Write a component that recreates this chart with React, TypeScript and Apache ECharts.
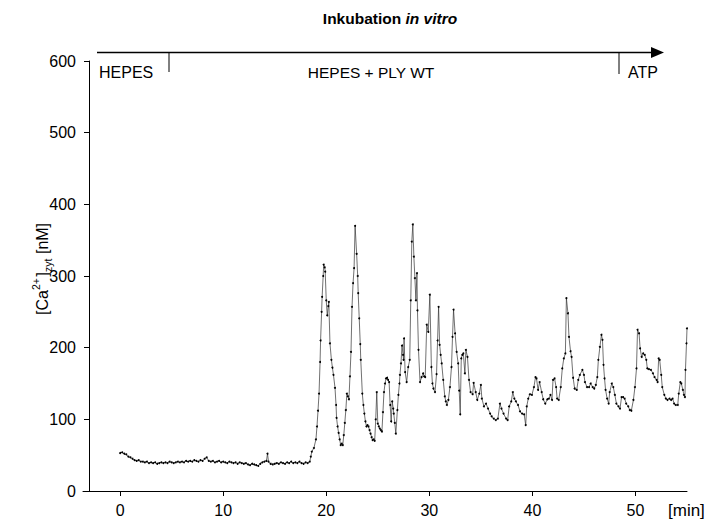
import React, { useEffect, useRef } from "react";
import * as echarts from "echarts";

// Resting phase (HEPES), time in min / cytosolic Ca2+ in nM
const restTime = [
  0, 0.2, 0.4, 0.6, 0.8, 1, 1.2, 1.4, 1.6, 1.8,
  2, 2.2, 2.4, 2.6, 2.8, 3, 3.2, 3.4, 3.6, 3.8,
  4, 4.2, 4.4, 4.6, 4.8, 5, 5.2, 5.4, 5.6, 5.8,
  6, 6.2, 6.4, 6.6, 6.8, 7, 7.2, 7.4, 7.6, 7.8,
  8, 8.2, 8.4, 8.6, 8.8, 9, 9.2, 9.4, 9.6, 9.8,
  10, 10.2, 10.4, 10.6, 10.8, 11, 11.2, 11.4, 11.6, 11.8,
  12, 12.2, 12.4, 12.6, 12.8, 13, 13.2, 13.4, 13.6, 13.8,
  14, 14.2, 14.3,
  14.4, 14.6, 14.8, 15, 15.2, 15.4, 15.6, 15.8, 16, 16.2,
  16.4, 16.6, 16.8, 17, 17.2, 17.4, 17.6, 17.8, 18, 18.2, 18.4,
];
const restCa = [
  53, 54, 52, 51, 48, 47, 45, 43, 42, 43,
  41, 41, 40, 41, 39, 40, 39, 40, 38, 39,
  40, 39, 40, 39, 41, 40, 39, 40, 41, 40,
  41, 40, 42, 41, 42, 41, 43, 42, 41, 43,
  42, 45, 47, 42, 41, 42, 40, 41, 42, 40,
  41, 40, 39, 41, 40, 39, 40, 38, 40, 39,
  38, 39, 37, 36, 38, 37, 36, 35, 38, 40,
  41, 42, 52,
  41, 38, 37, 38, 39, 38, 40, 39, 38, 40,
  39, 41, 39, 40, 39, 41, 39, 38, 40, 39, 41,
];

// Response phase (HEPES + PLY WT, then ATP): [min, nM]
const plyTrace: [number, number][] = [
  [18.5, 48], [18.6, 55], [18.8, 60], [19.0, 72], [19.1, 90], [19.2, 112], [19.3, 136],
  [19.4, 180], [19.45, 210], [19.55, 250], [19.6, 271], [19.7, 300], [19.75, 316],
  [19.85, 312], [19.9, 306], [20.0, 266], [20.1, 245], [20.2, 258], [20.25, 264],
  [20.36, 206], [20.5, 183], [20.6, 172], [20.7, 162], [20.85, 144], [20.95, 120],
  [21.0, 102], [21.1, 90], [21.2, 81], [21.3, 72], [21.4, 64], [21.5, 66], [21.6, 64],
  [21.7, 78], [21.8, 95], [21.9, 113], [22.0, 136], [22.1, 132], [22.2, 128], [22.3, 160],
  [22.4, 194], [22.5, 257], [22.6, 290], [22.7, 311], [22.8, 370], [22.95, 331],
  [23.05, 300], [23.1, 276], [23.2, 241], [23.3, 205], [23.35, 183], [23.5, 136],
  [23.6, 120], [23.7, 108], [23.8, 97], [23.9, 90], [24.0, 92], [24.1, 90], [24.2, 85],
  [24.3, 80], [24.4, 75], [24.5, 71], [24.6, 72], [24.7, 70], [24.8, 100], [24.9, 138],
  [25.0, 94], [25.1, 90], [25.2, 87], [25.3, 85], [25.4, 83], [25.5, 110], [25.6, 138],
  [25.7, 150], [25.8, 157], [25.9, 158], [26.0, 155], [26.1, 152], [26.2, 120], [26.3, 97],
  [26.4, 125], [26.5, 115], [26.55, 108], [26.65, 95], [26.75, 80], [26.9, 113], [27.0, 134],
  [27.1, 150], [27.15, 162], [27.25, 178], [27.35, 203], [27.45, 190], [27.5, 183],
  [27.55, 213], [27.65, 166], [27.8, 152], [27.95, 173], [28.1, 183], [28.2, 266],
  [28.3, 348], [28.4, 372], [28.5, 327], [28.6, 297], [28.7, 266], [28.8, 304],
  [28.85, 252], [28.95, 197], [29.1, 152], [29.25, 159], [29.4, 164], [29.5, 160],
  [29.6, 159], [29.75, 232], [29.9, 222], [30.05, 274], [30.2, 173], [30.3, 150],
  [30.4, 143], [30.55, 138], [30.7, 163], [30.8, 210], [30.9, 257], [31.0, 204],
  [31.1, 190], [31.2, 178], [31.35, 155], [31.5, 132], [31.6, 125], [31.7, 120],
  [31.85, 127], [32.0, 145], [32.15, 173], [32.25, 215], [32.35, 253], [32.5, 220],
  [32.65, 194], [32.8, 178], [32.9, 140], [33.0, 107], [33.1, 185], [33.2, 190],
  [33.3, 192], [33.45, 164], [33.55, 197], [33.7, 187], [33.85, 155], [34.0, 138],
  [34.2, 135], [34.3, 151], [34.5, 138], [34.65, 127], [34.85, 136], [35.0, 148],
  [35.1, 129], [35.3, 118], [35.5, 122], [35.7, 115], [35.9, 108], [36.05, 104],
  [36.25, 101], [36.45, 99], [36.65, 101], [36.85, 122], [37.0, 115], [37.2, 108],
  [37.45, 101], [37.6, 99], [37.75, 118], [37.95, 125], [38.1, 138], [38.25, 129],
  [38.4, 125], [38.6, 120], [38.8, 111], [39.0, 108], [39.2, 107], [39.35, 92],
  [39.45, 118], [39.6, 129], [39.75, 135], [39.95, 134], [40.15, 145], [40.3, 159],
  [40.4, 157], [40.55, 141], [40.7, 152], [40.9, 138], [41.05, 128], [41.25, 122],
  [41.45, 128], [41.6, 129], [41.75, 134], [41.9, 127], [42.0, 155], [42.15, 157],
  [42.3, 145], [42.4, 129], [42.55, 127], [42.75, 145], [42.9, 171], [43.05, 185],
  [43.2, 192], [43.3, 269], [43.45, 248], [43.55, 215], [43.7, 195], [43.8, 187],
  [43.95, 158], [44.1, 143], [44.3, 141], [44.45, 155], [44.6, 162], [44.85, 169],
  [45.0, 162], [45.1, 152], [45.3, 145], [45.5, 145], [45.65, 150], [45.85, 145],
  [46.0, 143], [46.15, 148], [46.3, 159], [46.4, 183], [46.55, 201], [46.7, 218],
  [46.8, 211], [46.9, 176], [47.0, 157], [47.1, 141], [47.25, 129], [47.4, 122],
  [47.5, 138], [47.7, 150], [47.85, 145], [48.0, 134], [48.15, 122], [48.35, 118],
  [48.5, 115], [48.65, 131], [48.8, 131], [48.95, 129], [49.1, 122], [49.3, 118],
  [49.45, 113], [49.6, 112], [49.8, 127], [49.95, 145], [50.1, 171], [50.2, 225],
  [50.35, 220], [50.45, 199], [50.6, 187], [50.75, 192], [50.9, 190], [51.05, 183],
  [51.15, 171], [51.3, 170], [51.5, 169], [51.7, 164], [51.85, 159], [52.05, 155],
  [52.15, 152], [52.25, 185], [52.35, 183], [52.5, 162], [52.6, 145], [52.8, 134],
  [52.95, 129], [53.1, 127], [53.3, 129], [53.45, 127], [53.6, 129], [53.75, 122],
  [53.9, 120], [54.1, 120], [54.2, 136], [54.35, 152], [54.45, 150], [54.6, 141],
  [54.7, 134], [54.8, 131], [54.85, 169], [54.95, 206], [55.0, 227],
];

const xTicks = [0, 10, 20, 30, 40, 50];
const phaseLabels = ["HEPES", "HEPES + PLY WT", "ATP"];

const FONT = "'Liberation Sans', Arial, Helvetica, sans-serif";

export default function App() {
  const ref = useRef<HTMLDivElement>(null);

  useEffect(() => {
    if (!ref.current) return;
    const chart = echarts.init(ref.current, null, { renderer: "svg" });
    const data: [number, number][] = restTime
      .map((t, i) => [t, restCa[i]] as [number, number])
      .concat(plyTrace);

    const txt = (text: string, size: number, extra: any = {}) => ({
      text,
      fontSize: size,
      fontFamily: FONT,
      fill: "#000",
      textVerticalAlign: "middle",
      textAlign: "left",
      ...extra,
    });

    chart.setOption({
      animation: false,
      backgroundColor: "#fff",
      grid: { left: 83, right: 25, top: 61, bottom: 34 },
      xAxis: {
        type: "value",
        min: -3.6,
        max: 55,
        axisLine: { show: true, onZero: false, lineStyle: { color: "#000", width: 1 } },
        axisTick: { show: true, length: 5, customValues: xTicks, lineStyle: { color: "#000" } },
        axisLabel: { customValues: xTicks, color: "#000", fontSize: 16, fontFamily: FONT, margin: 11 },
        splitLine: { show: false },
      },
      yAxis: {
        type: "value",
        min: 0,
        max: 600,
        interval: 100,
        offset: -6,
        axisLine: { show: true, onZero: false, lineStyle: { color: "#000", width: 1 } },
        axisTick: { show: true, length: 5, lineStyle: { color: "#000" } },
        axisLabel: { color: "#000", fontSize: 16, fontFamily: FONT, margin: 13 },
        splitLine: { show: false },
      },
      series: [
        {
          type: "line",
          data,
          symbol: "circle",
          symbolSize: 2,
          showSymbol: true,
          showAllSymbol: true,
          itemStyle: { color: "#000" },
          lineStyle: { color: "#333", width: 0.7 },
          emphasis: { disabled: true },
        },
      ],
      graphic: [
        {
          type: "text",
          x: 390,
          y: 18,
          style: {
            text: "{b|Inkubation }{i|in vitro}",
            textAlign: "center",
            textVerticalAlign: "middle",
            rich: {
              b: { fontSize: 15.5, fontWeight: "bold", fontFamily: FONT, fill: "#000", color: "#000" },
              i: { fontSize: 15.5, fontWeight: "bold", fontStyle: "italic", fontFamily: FONT, fill: "#000", color: "#000" },
            },
          },
        },
        { type: "line", shape: { x1: 97, y1: 52.5, x2: 656, y2: 52.5 }, style: { stroke: "#000", lineWidth: 1.6 } },
        { type: "polygon", shape: { points: [[651, 47], [664, 52.5], [651, 58]] }, style: { fill: "#000" } },
        { type: "line", shape: { x1: 169, y1: 52.5, x2: 169, y2: 72 }, style: { stroke: "#000", lineWidth: 1 } },
        { type: "line", shape: { x1: 619, y1: 52.5, x2: 619, y2: 74 }, style: { stroke: "#000", lineWidth: 1 } },
        { type: "text", x: 99, y: 72.5, style: txt(phaseLabels[0], 16) },
        { type: "text", x: 371, y: 72.5, style: txt(phaseLabels[1], 15.5, { textAlign: "center" }) },
        { type: "text", x: 628, y: 72.5, style: txt(phaseLabels[2], 16) },
        { type: "text", x: 668, y: 510, style: txt("[min]", 17) },
        {
          type: "group",
          x: 42,
          y: 315,
          rotation: Math.PI / 2,
          children: [
            { type: "text", x: 0, y: 0, style: txt("[Ca", 16) },
            { type: "text", x: 25, y: -6.5, style: txt("2+", 10.5) },
            { type: "text", x: 38.5, y: 0, style: txt("]", 16) },
            { type: "text", x: 43, y: 5.5, style: txt("zyt", 10.5) },
            { type: "text", x: 56.5, y: 0, style: txt(" [nM]", 16) },
          ],
        },
      ],
    });

    return () => chart.dispose();
  }, []);

  return (
    <div
      ref={ref}
      style={{ position: "fixed", left: 0, top: 0, width: 712, height: 525, background: "#fff" }}
    />
  );
}
